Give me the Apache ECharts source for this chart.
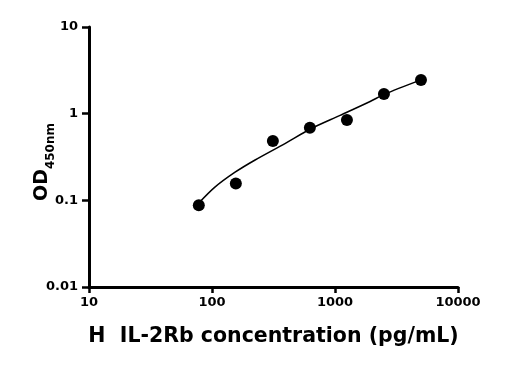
<!DOCTYPE html>
<html>
<head>
<meta charset="utf-8">
<script src="https://cdn.jsdelivr.net/npm/echarts@6/dist/echarts.min.js"></script>
<style>
html,body{margin:0;padding:0;background:#fff;}
#chart{width:516px;height:370px;}
</style>
</head>
<body>
<div id="chart"></div>
<script>
// Standard concentrations (pg/mL) and measured OD450
const concentrations = [78.125, 156.25, 312.5, 625, 1250, 2500, 5000];
const odValues = [0.088, 0.156, 0.484, 0.688, 0.845, 1.69, 2.44];

// Fitted standard curve
const curveX = [78.125, 105, 154, 224, 392, 625, 1100, 1930, 2500, 5000];
const curveY = [0.093, 0.141, 0.211, 0.292, 0.452, 0.661, 0.955, 1.38, 1.667, 2.455];

const xTicks = [10, 100, 1000, 10000];
const yTicks = [0.01, 0.1, 1, 10];

const xTitle = 'H  IL-2Rb concentration (pg/mL)';

const FONT = 'DejaVu Sans';

const chart = echarts.init(document.getElementById('chart'), null, {renderer: 'canvas'});

const points = concentrations.map((c, i) => [c, odValues[i]]);
const curve = curveX.map((c, i) => [c, curveY[i]]);

chart.setOption({
  animation: false,
  backgroundColor: '#fff',
  grid: {left: 89, right: 58, top: 27, bottom: 83, containLabel: false},
  xAxis: {
    type: 'log',
    logBase: 10,
    min: xTicks[0],
    max: xTicks[xTicks.length - 1],
    name: xTitle,
    nameLocation: 'middle',
    nameGap: 39,
    nameMoveOverlap: false,
    nameTextStyle: {fontFamily: FONT, fontWeight: 'bold', fontSize: 20.5, color: '#000'},
    axisLine: {lineStyle: {color: '#000', width: 3}},
    axisTick: {show: true, length: 6, lineStyle: {color: '#000', width: 2.5}},
    minorTick: {show: false},
    splitLine: {show: false},
    axisLabel: {
      margin: 9, color: '#000', fontFamily: FONT, fontWeight: 'bold', fontSize: 13,
      formatter: v => String(v)
    }
  },
  yAxis: {
    type: 'log',
    logBase: 10,
    min: yTicks[0],
    max: yTicks[yTicks.length - 1],
    name: '{a|OD}{b|450nm}',
    nameLocation: 'middle',
    nameRotate: 90,
    nameGap: 37,
    nameMoveOverlap: false,
    nameTextStyle: {
      color: '#000',
      padding: [0, 10, 0, 0],
      rich: {
        a: {fontFamily: FONT, fontWeight: 'bold', fontSize: 19, color: '#000', lineHeight: 19, verticalAlign: 'top'},
        b: {fontFamily: FONT, fontWeight: 'bold', fontSize: 12, color: '#000', lineHeight: 12, padding: [12, 0, 0, 0], verticalAlign: 'top'}
      }
    },
    axisLine: {show: true, lineStyle: {color: '#000', width: 3}},
    axisTick: {show: true, length: 7, lineStyle: {color: '#000', width: 2.5}},
    minorTick: {show: false},
    splitLine: {show: false},
    axisLabel: {
      margin: 11, color: '#000', fontFamily: FONT, fontWeight: 'bold', fontSize: 13,
      formatter: v => {
        const r = Math.round(Math.log10(v));
        return r < 0 ? Number(Math.pow(10, r).toFixed(-r)).toString() : String(Math.pow(10, r));
      }
    }
  },
  series: [
    {
      type: 'line',
      data: curve,
      smooth: 0.3,
      showSymbol: false,
      lineStyle: {color: '#000', width: 1.5},
      z: 2
    },
    {
      type: 'scatter',
      data: points,
      symbol: 'circle',
      symbolSize: 12,
      itemStyle: {color: '#000', opacity: 1},
      z: 3
    }
  ]
});
</script>
</body>
</html>
